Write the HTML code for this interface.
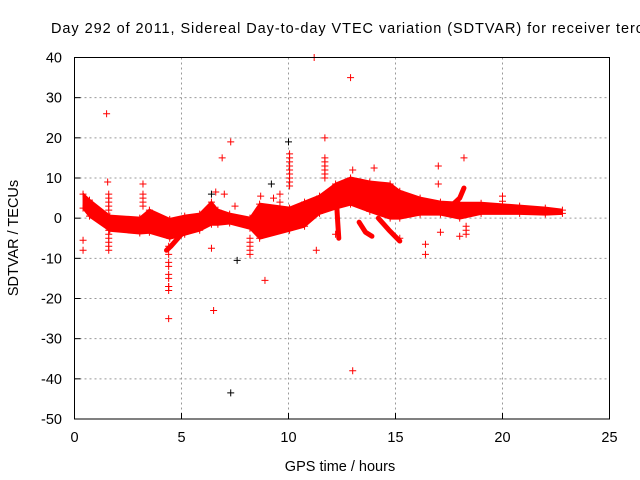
<!DOCTYPE html>
<html><head><meta charset="utf-8"><style>
html,body{margin:0;padding:0;background:#fff;}
svg{display:block;font-family:"Liberation Sans",sans-serif;}
</style></head><body>
<svg id="chart" width="640" height="480" viewBox="0 0 640 480" xmlns="http://www.w3.org/2000/svg">
<text x="51" y="33" font-size="14.5" fill="#000" textLength="592" lengthAdjust="spacing">Day 292 of 2011, Sidereal Day-to-day VTEC variation (SDTVAR) for receiver terc</text>
<g id="grid"></g>
<g id="marks"></g>
<rect x="74.5" y="57.5" width="535" height="361.5" fill="none" stroke="#000" stroke-width="1"/>
<g id="ticks"></g>
<text transform="translate(18,238) rotate(-90)" text-anchor="middle" font-size="14.5">SDTVAR / TECUs</text>
<text x="340" y="471" text-anchor="middle" font-size="14.5">GPS time / hours</text>
</svg>
<script>
const xTicks=[0,5,10,15,20,25];
const yTicks=[40,30,20,10,0,-10,-20,-30,-40,-50];
const bandT=[0.4,0.7,1.65,3.05,3.5,4.45,5.15,5.85,6.4,6.7,7.25,8.2,8.65,10.05,10.75,11.45,12.2,12.9,13.8,14.75,15.2,16.15,17.1,18.0,19.0,20.8,22.0,22.8];
const bandHi=[6,4.5,0.5,0,2,-0.3,0.5,1,4,2,1,0,3.5,2.5,4,5.5,8.5,10,9,8.5,6.7,5,4,3.7,3.7,3,2.5,2];
const bandLo=[2.5,0.5,-3,-3.7,-3.5,-5,-4,-3,-1.5,-1.5,-1.2,-2.5,-5,-3,-2,1.2,2.5,3.5,1.7,0,0,1,1,0,1.2,1.2,1,1.2];
const armAT=[4.3,4.5,5.0,5.8];const armAV=[-8,-7,-4,-2];
const armBT=[12.25,12.3,12.35];const armBV=[3.5,-1,-5];
const armCT=[14.2,14.7,15.2];const armCV=[0,-3,-5.7];
const armDT=[13.3,13.6,13.9];const armDV=[-1,-3.5,-4.5];
const armET=[17.6,18.0,18.2];const armEV=[3,5,7.5];
const spikeT=[1.6,4.4,10.05,11.7,3.2,8.2,18.3,9.6];
const spikeVals=[[-7,-6,-5,-4,-3,-2,2,3,4,5,6],[-18,-17,-15,-14,-12,-11,-9,-7],[8,9,10,11,12,13,14,15,16],[10,11,12,13,14,15],[3,4,5,6],[-9,-8,-7,-6,-5],[-4,-3,-2],[4,6]];
const outT=[1.5,11.2,12.9,11.7,7.3,6.9,18.2,17.0,13.0,14.0,1.55,3.2,0.4,0.4,1.6,4.4,4.4,6.4,6.5,8.9,13.0,11.3,16.4,16.4,17.1,18.0,20.0,20.0,15.2,12.2,9.3,6.6,7.0,7.5,17.0,8.7];
const outV=[26,40,35,20,19,15,15,13,12,12.5,9,8.5,-5.5,-8,-8,-25,-17,-7.5,-23,-15.5,-38,-8,-9,-6.5,-3.5,-4.5,5.5,4.2,-5,-4,5,6.5,6,3,8.5,5.5];
const blackT=[10.0,7.6,7.3,9.2,6.4];
const blackV=[19,-10.5,-43.5,8.5,6];

const NS="http://www.w3.org/2000/svg";
const X0=74.5,X1=609.5,Y0=57.5,Y1=419;
function xs(t){return X0+(t-0)/25*(X1-X0);}
function ys(v){return Y0+(40-v)/90*(Y1-Y0);}
function mk(tag,attrs,parent){const e=document.createElementNS(NS,tag);for(const k in attrs)e.setAttribute(k,attrs[k]);parent.appendChild(e);return e;}
const grid=document.getElementById('grid'),marks=document.getElementById('marks'),ticks=document.getElementById('ticks');
xTicks.forEach(t=>{
  if(t>0&&t<25){const l=mk('line',{x1:xs(t),x2:xs(t),y1:Y0,y2:Y1,stroke:'#999','stroke-dasharray':'2,3'},grid);
  
  }
  const tk=mk('line',{x1:xs(t),x2:xs(t),y1:Y1,y2:Y1-6,stroke:'#000'},ticks);
  
  
  const tx=mk('text',{x:xs(t),y:442,'text-anchor':'middle','font-size':'14.5'},ticks);tx.textContent=t;
  
  
});
yTicks.forEach(v=>{
  if(v<40&&v>-50){const l=mk('line',{x1:X0,x2:X1,y1:ys(v),y2:ys(v),stroke:'#999','stroke-dasharray':'2,3'},grid);
  
  }
  const tk=mk('line',{x1:X0,x2:X0+6,y1:ys(v),y2:ys(v),stroke:'#000'},ticks);
  
  
  const tx=mk('text',{x:62,y:ys(v)+5,'text-anchor':'end','font-size':'14.5'},ticks);tx.textContent=v;
  
  
});
function cross(t,v,col){
  const x=xs(t),y=ys(v);
  const p=mk('path',{d:`M${x-3.5},${y}H${x+3.5}M${x},${y-3.5}V${y+3.5}`,stroke:col,'stroke-width':1,fill:'none'},marks);
  
  
}
let d='M'+bandT.map((t,i)=>xs(t)+','+(ys(bandHi[i])-1)).join('L');
for(let i=bandT.length-1;i>=0;i--)d+='L'+xs(bandT[i])+','+(ys(bandLo[i])+1);
const band=mk('path',{d:d+'Z',fill:'#f00',stroke:'#f00','stroke-width':1},marks);


bandT.forEach((t,i)=>{cross(t,bandHi[i],'#f00');cross(t,bandLo[i],'#f00');});
[[armAT,armAV],[armBT,armBV],[armCT,armCV],[armDT,armDV],[armET,armEV]].forEach(a=>{
  const pl=mk('polyline',{points:a[0].map((t,i)=>xs(t)+','+ys(a[1][i])).join(' '),stroke:'#f00','stroke-width':5,fill:'none','stroke-linejoin':'round','stroke-linecap':'round'},marks);
  
  
});
spikeT.forEach((t,i)=>spikeVals[i].forEach(v=>cross(t,v,'#f00')));
outT.forEach((t,i)=>cross(t,outV[i],'#f00'));
blackT.forEach((t,i)=>cross(t,blackV[i],'#000'));
</script>
</body></html>
